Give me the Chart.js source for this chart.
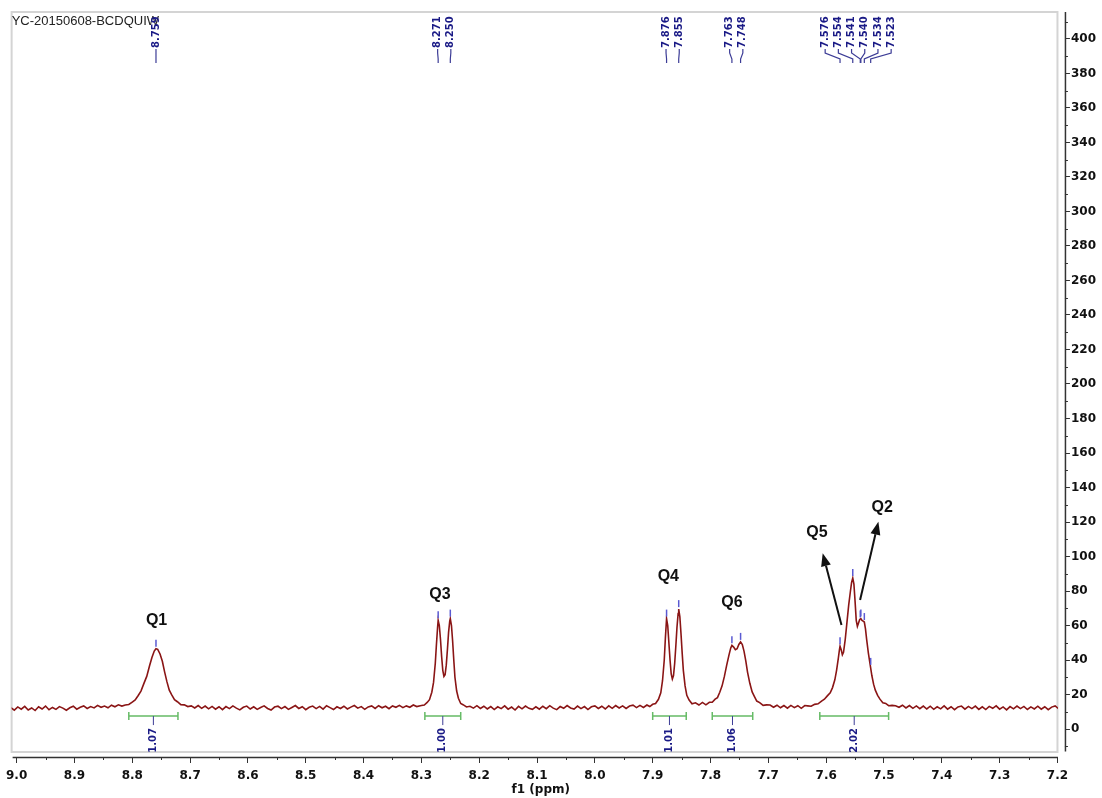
<!DOCTYPE html>
<html><head><meta charset="utf-8">
<script src="https://cdn.jsdelivr.net/npm/chart.js@4.4.1/dist/chart.umd.min.js"></script>
<style>html,body{margin:0;padding:0;background:#fff;overflow:hidden}canvas{display:block}</style>
</head><body><canvas id="c" width="1102" height="798"></canvas>
<script>
// ---------- DATA (ppm, intensity) ----------
const baselineA = [[9.010,12.4],[9.004,10.9],[8.998,12.8],[8.992,11.5],[8.986,13.1],[8.980,11.0],[8.974,12.2],[8.968,10.7],[8.962,12.9],[8.956,11.6],[8.950,13.3],[8.944,11.2],[8.938,12.5],[8.932,11.4],[8.926,13.0],[8.920,12.1],[8.914,10.9],[8.908,12.3],[8.902,13.2],[8.896,11.5],[8.890,12.6],[8.884,13.4],[8.878,11.9],[8.872,13.0],[8.866,12.2],[8.860,13.7],[8.854,12.6],[8.848,13.3],[8.842,12.3],[8.836,13.8],[8.830,12.9],[8.824,14.0],[8.818,13.3]];
const peakQ1 = [[8.812,13.9],[8.806,14.2],[8.800,15.6],[8.795,16.8],[8.790,19.3],[8.785,22.0],[8.780,26.3],[8.775,30.5],[8.770,36.8],[8.766,41.5],[8.762,45.2],[8.759,46.5],[8.756,46.2],[8.752,43.5],[8.748,39.3],[8.744,33.0],[8.740,27.3],[8.736,22.5],[8.732,19.9],[8.727,17.0],[8.722,15.8],[8.716,14.1],[8.710,14.0],[8.704,13.0]];
const baselineB = [[8.698,13.4],[8.692,12.2],[8.686,13.6],[8.680,12.0],[8.674,13.3],[8.668,11.7],[8.662,13.1],[8.656,11.5],[8.650,12.9],[8.644,11.2],[8.638,13.0],[8.632,11.8],[8.626,13.4],[8.620,12.1],[8.614,11.1],[8.608,12.6],[8.602,13.3],[8.596,11.6],[8.590,12.9],[8.584,11.4],[8.578,12.5],[8.572,13.4],[8.566,11.9],[8.560,11.0],[8.554,12.7],[8.548,13.2],[8.542,11.8],[8.536,13.0],[8.530,11.4],[8.524,12.5],[8.518,13.6],[8.512,11.9],[8.506,12.9],[8.500,11.2],[8.494,12.6],[8.488,13.3],[8.482,11.8],[8.476,13.1],[8.470,11.5],[8.464,13.5],[8.458,12.4],[8.452,11.3],[8.446,12.9],[8.440,11.9],[8.434,13.2],[8.428,11.6],[8.422,12.7],[8.416,13.6],[8.410,12.1],[8.404,13.0],[8.398,11.4],[8.392,12.8],[8.386,13.4],[8.380,11.9],[8.374,13.5],[8.368,12.3],[8.362,13.2],[8.356,11.8],[8.350,13.4],[8.344,12.6],[8.338,13.7],[8.332,12.4],[8.326,13.4],[8.320,12.6],[8.314,13.9],[8.308,13.0]];
const peakQ3 = [[8.300,13.6],[8.295,13.9],[8.290,15.4],[8.286,17.0],[8.282,21.3],[8.279,27.0],[8.276,38.0],[8.274,49.0],[8.272,59.0],[8.271,63.0],[8.269,60.0],[8.267,52.0],[8.265,42.0],[8.263,34.0],[8.261,30.5],[8.259,31.5],[8.257,37.0],[8.255,46.0],[8.253,56.0],[8.251,62.5],[8.250,64.0],[8.248,60.0],[8.246,51.0],[8.244,40.0],[8.242,30.0],[8.239,22.0],[8.236,17.8],[8.232,14.8],[8.228,14.1],[8.222,12.8]];
const baselineC = [[8.216,13.2],[8.210,12.1],[8.204,13.5],[8.198,11.9],[8.192,13.2],[8.186,11.6],[8.180,13.0],[8.174,11.3],[8.168,12.9],[8.162,11.8],[8.156,13.4],[8.150,11.5],[8.144,12.7],[8.138,11.0],[8.132,13.1],[8.126,11.7],[8.120,13.3],[8.114,12.0],[8.108,11.4],[8.102,12.9],[8.096,11.5],[8.090,13.2],[8.084,11.8],[8.078,13.5],[8.072,12.1],[8.066,11.2],[8.060,13.0],[8.054,12.0],[8.048,13.6],[8.042,12.2],[8.036,11.6],[8.030,13.3],[8.024,11.8],[8.018,13.0],[8.012,11.3],[8.006,12.9],[8.000,13.4],[7.994,11.9],[7.988,13.2],[7.982,11.6],[7.976,13.4],[7.970,12.0],[7.964,13.6],[7.958,12.2],[7.952,13.4],[7.946,11.9],[7.940,13.3],[7.934,13.8],[7.928,12.4],[7.922,13.7],[7.916,12.5],[7.910,13.9]];
const peakQ4 = [[7.905,13.0],[7.900,14.3],[7.895,14.8],[7.890,17.2],[7.886,21.0],[7.883,28.0],[7.880,40.0],[7.878,53.0],[7.876,64.0],[7.874,60.0],[7.872,50.0],[7.870,40.0],[7.868,32.0],[7.866,29.0],[7.864,31.0],[7.862,38.0],[7.860,48.0],[7.858,59.0],[7.856,67.0],[7.855,69.5],[7.853,65.0],[7.851,55.0],[7.849,44.0],[7.847,34.0],[7.844,25.0],[7.841,19.5],[7.837,16.8],[7.832,14.6]];
const bridgeQ4Q6 = [[7.826,15.2],[7.820,13.9],[7.814,15.4],[7.808,14.0],[7.802,15.5]];
const peakQ6 = [[7.797,15.5],[7.792,17.3],[7.788,18.2],[7.784,21.3],[7.780,25.0],[7.776,30.5],[7.772,37.0],[7.768,43.0],[7.765,47.0],[7.763,48.5],[7.760,47.5],[7.757,46.0],[7.754,46.5],[7.751,49.0],[7.748,50.5],[7.745,49.0],[7.742,45.0],[7.739,39.5],[7.736,33.0],[7.732,26.5],[7.728,21.5],[7.724,18.8],[7.720,16.2],[7.715,15.3],[7.709,13.7],[7.703,14.0]];
const baselineD = [[7.697,13.9],[7.691,12.6],[7.685,13.8],[7.679,12.3],[7.673,13.6],[7.667,12.1],[7.661,13.7],[7.655,12.4],[7.649,13.5],[7.643,12.0],[7.637,13.6],[7.632,13.4]];
const peakCluster = [[7.626,13.2],[7.620,14.3],[7.614,14.6],[7.608,16.2],[7.603,17.3],[7.598,19.2],[7.593,21.0],[7.589,24.0],[7.585,28.5],[7.582,34.0],[7.579,41.0],[7.577,46.0],[7.576,48.0],[7.574,46.0],[7.572,43.0],[7.570,44.5],[7.567,52.0],[7.564,62.0],[7.561,72.0],[7.558,80.0],[7.556,85.0],[7.554,87.5],[7.552,84.0],[7.550,74.0],[7.548,63.0],[7.546,59.5],[7.544,61.5],[7.542,63.5],[7.540,64.0],[7.538,63.0],[7.536,62.5],[7.534,62.0],[7.532,58.0],[7.530,52.0],[7.527,44.0],[7.524,37.5],[7.521,31.0],[7.518,26.0],[7.515,22.5],[7.511,19.5],[7.507,17.3],[7.502,15.2],[7.497,14.8],[7.492,13.5],[7.486,13.7]];
const baselineE = [[7.480,13.5],[7.474,12.6],[7.468,13.8],[7.462,12.2],[7.456,13.6],[7.450,12.0],[7.444,13.4],[7.438,11.8],[7.432,13.3],[7.426,11.6],[7.420,13.2],[7.414,11.4],[7.408,12.9],[7.402,11.7],[7.396,13.4],[7.390,11.5],[7.384,12.9],[7.378,11.2],[7.372,12.8],[7.366,13.3],[7.360,11.5],[7.354,13.1],[7.348,11.8],[7.342,13.3],[7.336,11.4],[7.330,12.9],[7.324,11.3],[7.318,13.1],[7.312,12.0],[7.306,13.4],[7.300,11.5],[7.294,12.8],[7.288,11.1],[7.282,13.0],[7.276,11.7],[7.270,13.3],[7.264,11.8],[7.258,13.1],[7.252,11.3],[7.246,12.8],[7.240,11.6],[7.234,13.2],[7.228,11.5],[7.222,12.9],[7.216,11.2],[7.210,12.7],[7.204,13.4],[7.198,11.8],[7.192,13.1],[7.186,11.9]];

const xTickValues = [9.0,8.9,8.8,8.7,8.6,8.5,8.4,8.3,8.2,8.1,8.0,7.9,7.8,7.7,7.6,7.5,7.4,7.3,7.2];
const xMinorTicks = [8.95,8.85,8.75,8.65,8.55,8.45,8.35,8.25,8.15,8.05,7.95,7.85,7.75,7.65,7.55,7.45,7.35,7.25];
const yTickValues = [0,20,40,60,80,100,120,140,160,180,200,220,240,260,280,300,320,340,360,380,400];
const yMinorTicks = [-10,10,30,50,70,90,110,130,150,170,190,210,230,250,270,290,310,330,350,370,390,410];

const peakPpm = [8.759,8.271,8.250,7.876,7.855,7.763,7.748,7.576,7.554,7.541,7.540,7.534,7.523];
const peakLabels = ['8.759','8.271','8.250','7.876','7.855','7.763','7.748','7.576','7.554','7.541','7.540','7.534','7.523'];
const peakTickHeights = [46.5,63,64,64,69.5,48.5,50.5,48,87.5,63.5,64,62,36];

const integralFrom = [8.806,8.294,7.900,7.797,7.611];
const integralTo = [8.721,8.232,7.842,7.727,7.492];
const integralLabels = ['1.07','1.00','1.01','1.06','2.02'];
const integralLevel = 7.5;

const assignLabels = ['Q1','Q3','Q4','Q6','Q5','Q2'];
const assignPpm = [8.758,8.268,7.873,7.763,7.616,7.503];
const assignHeight = [62.8,77.7,88.1,73.0,113.6,128.1];

const arrowFromPpm = [7.5735,7.5413];
const arrowFromVal = [60.3,74.8];
const arrowToPpm = [7.606,7.5097];
const arrowToVal = [101.9,120.2];

const sampleName = 'YC-20150608-BCDQUIW';

// ---------- build ----------
const segments = [baselineA,peakQ1,baselineB,peakQ3,baselineC,peakQ4,bridgeQ4Q6,peakQ6,baselineD,peakCluster,baselineE];
const spectrum = [];
segments.forEach(s => s.forEach(p => spectrum.push({x:p[0], y:p[1]})));

const FONT = '"DejaVu Sans", sans-serif';
const NAVY = '#1a1a86';

function arrow(ctx,x1,y1,x2,y2){
  const a = Math.atan2(y2-y1,x2-x1), hl = 13, hw = 5;
  const bx = x2-hl*Math.cos(a), by = y2-hl*Math.sin(a);
  ctx.beginPath(); ctx.moveTo(x1,y1); ctx.lineTo(bx,by); ctx.stroke();
  ctx.beginPath(); ctx.moveTo(x2,y2);
  ctx.lineTo(bx+hw*Math.sin(a), by-hw*Math.cos(a));
  ctx.lineTo(bx-hw*Math.sin(a), by+hw*Math.cos(a));
  ctx.closePath(); ctx.fill();
}

const decor = {
  id:'decor',
  beforeDatasetsDraw(chart){
    const {ctx, chartArea:ca, scales:{x}} = chart;
    const right = x.getPixelForValue(7.2);
    ctx.save();
    ctx.strokeStyle = '#d4d4d4'; ctx.lineWidth = 2;
    ctx.strokeRect(ca.left-5, ca.top, right-(ca.left-5), ca.bottom-5-ca.top);
    ctx.restore();
  },
  afterDraw(chart){
    const {ctx, chartArea:ca, scales:{x,y}} = chart;
    ctx.save();
    // axis lines
    ctx.strokeStyle = '#333'; ctx.lineWidth = 1.5;
    ctx.beginPath(); ctx.moveTo(ca.left-4, ca.bottom+0.5); ctx.lineTo(x.getPixelForValue(7.2)+0.5, ca.bottom+0.5); ctx.stroke();
    ctx.beginPath(); ctx.moveTo(ca.right+0.5, ca.top); ctx.lineTo(ca.right+0.5, y.getPixelForValue(-13)); ctx.stroke();
    // minor ticks
    ctx.lineWidth = 1;
    xMinorTicks.forEach(v => { const px = Math.round(x.getPixelForValue(v))+0.5; ctx.beginPath(); ctx.moveTo(px, ca.bottom); ctx.lineTo(px, ca.bottom+3); ctx.stroke(); });
    yMinorTicks.forEach(v => { const py = Math.round(y.getPixelForValue(v))+0.5; ctx.beginPath(); ctx.moveTo(ca.right, py); ctx.lineTo(ca.right+3, py); ctx.stroke(); });

    // sample name
    ctx.fillStyle = '#222'; ctx.font = '13px "Liberation Sans", sans-serif';
    ctx.textAlign = 'left'; ctx.textBaseline = 'top';
    ctx.fillText(sampleName, ca.left-5, 15);

    // peak ticks above peaks
    ctx.strokeStyle = '#5a5ad2'; ctx.lineWidth = 1.5;
    peakPpm.forEach((p,i) => {
      const px = x.getPixelForValue(p), py = y.getPixelForValue(peakTickHeights[i]);
      ctx.beginPath(); ctx.moveTo(px, py-2); ctx.lineTo(px, py-9); ctx.stroke();
    });

    // peak labels at the top with connectors
    const xs = peakPpm.map(p => x.getPixelForValue(p));
    const sp = 13.2;
    const groups = []; let cur = [0];
    for (let i=1;i<xs.length;i++){ if (xs[i]-xs[i-1] < sp) cur.push(i); else { groups.push(cur); cur=[i]; } }
    groups.push(cur);
    const lx = [];
    groups.forEach(g => {
      const m = g.reduce((s,i)=>s+xs[i],0)/g.length;
      g.forEach((i,k) => { lx[i] = g.length===1 ? xs[i] : m + (k-(g.length-1)/2)*sp; });
    });
    ctx.strokeStyle = '#3c3c96'; ctx.lineWidth = 1.2;
    xs.forEach((px,i) => {
      ctx.beginPath(); ctx.moveTo(lx[i], 49); ctx.lineTo(lx[i], 53); ctx.lineTo(px, 59); ctx.lineTo(px, 63); ctx.stroke();
    });
    ctx.fillStyle = NAVY; ctx.font = 'bold 10px ' + FONT;
    ctx.textAlign = 'left'; ctx.textBaseline = 'middle';
    xs.forEach((px,i) => {
      ctx.save(); ctx.translate(lx[i], 48); ctx.rotate(-Math.PI/2); ctx.fillText(peakLabels[i], 0, 0); ctx.restore();
    });

    // integrals
    const iy = y.getPixelForValue(integralLevel);
    integralFrom.forEach((f,i) => {
      const x1 = x.getPixelForValue(f), x2 = x.getPixelForValue(integralTo[i]), xc = (x1+x2)/2;
      ctx.strokeStyle = '#66bb66'; ctx.lineWidth = 1.5;
      ctx.beginPath(); ctx.moveTo(x1, iy); ctx.lineTo(x2, iy);
      ctx.moveTo(x1, iy-4); ctx.lineTo(x1, iy+4); ctx.moveTo(x2, iy-4); ctx.lineTo(x2, iy+4); ctx.stroke();
      ctx.strokeStyle = '#3c3c96'; ctx.lineWidth = 1;
      ctx.beginPath(); ctx.moveTo(xc, iy); ctx.lineTo(xc, iy+9); ctx.stroke();
      ctx.fillStyle = NAVY; ctx.font = 'bold 10px ' + FONT;
      ctx.textAlign = 'right'; ctx.textBaseline = 'middle';
      ctx.save(); ctx.translate(xc, iy+12); ctx.rotate(-Math.PI/2); ctx.fillText(integralLabels[i], 0, 0); ctx.restore();
    });

    // assignment labels
    ctx.fillStyle = '#111'; ctx.font = 'bold 16px "Liberation Sans", sans-serif';
    ctx.textAlign = 'center'; ctx.textBaseline = 'middle';
    assignLabels.forEach((t,i) => ctx.fillText(t, x.getPixelForValue(assignPpm[i]), y.getPixelForValue(assignHeight[i])));

    // arrows
    ctx.strokeStyle = '#111'; ctx.fillStyle = '#111'; ctx.lineWidth = 2;
    arrowFromPpm.forEach((p,i) => arrow(ctx, x.getPixelForValue(p), y.getPixelForValue(arrowFromVal[i]), x.getPixelForValue(arrowToPpm[i]), y.getPixelForValue(arrowToVal[i])));
    ctx.restore();
  }
};

Chart.defaults.font.family = FONT;

new Chart(document.getElementById('c'), {
  type:'line',
  data:{ datasets:[{ data: spectrum, borderColor:'#8a1515', borderWidth:1.6, pointRadius:0, tension:0, fill:false,
    clip:{left:5, right:-7, top:0, bottom:0} }] },
  options:{
    responsive:false, animation:false, devicePixelRatio:1,
    layout:{ padding:{ left:16, right:5, top:12, bottom:0.8 } },
    plugins:{ legend:{display:false}, tooltip:{enabled:false} },
    scales:{
      x:{ type:'linear', reverse:true, min:7.18704, max:9.0, position:'bottom',
        afterBuildTicks: s => { s.ticks = xTickValues.map(v => ({value:v})); },
        ticks:{ callback: v => Number(v).toFixed(1), font:{family:FONT, size:12, weight:'bold'}, color:'#111', padding:6, maxRotation:0, autoSkip:false },
        grid:{ drawOnChartArea:false, drawTicks:true, tickLength:6, color:'#333', lineWidth:1 },
        border:{ display:false },
        title:{ display:true, text:'f1 (ppm)', font:{family:FONT, size:12, weight:'bold'}, color:'#111', padding:{top:-6.6, bottom:0} } },
      y:{ type:'linear', position:'right', min:-16.23, max:415.65,
        afterBuildTicks: s => { s.ticks = yTickValues.map(v => ({value:v})); },
        ticks:{ font:{family:FONT, size:12, weight:'bold'}, color:'#111', padding:1, autoSkip:false },
        grid:{ drawOnChartArea:false, drawTicks:true, tickLength:5, color:'#333', lineWidth:1 },
        border:{ display:false } }
    }
  },
  plugins:[decor]
});
</script></body></html>
